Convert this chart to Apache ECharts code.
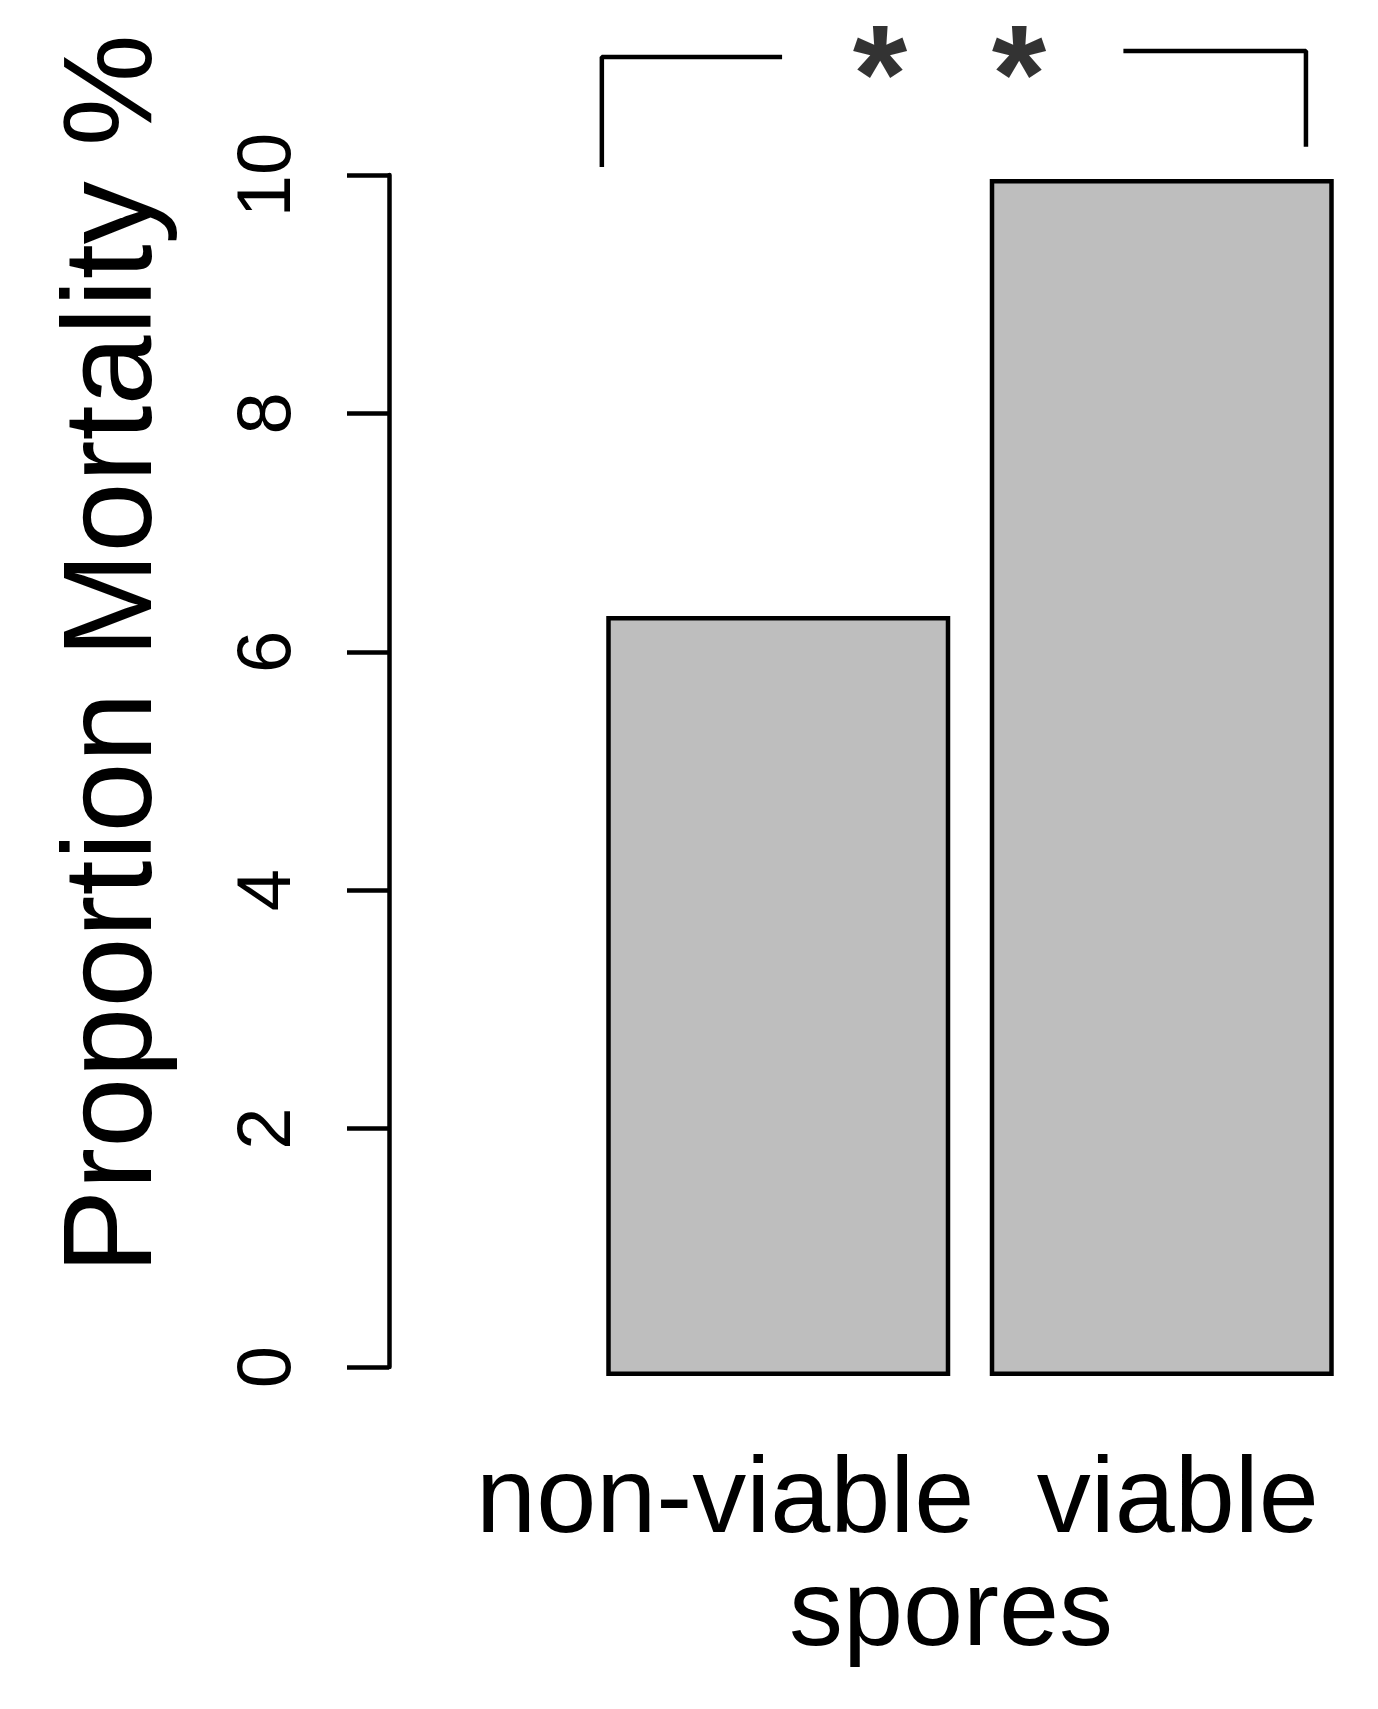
<!DOCTYPE html>
<html>
<head>
<meta charset="utf-8">
<script src="https://cdn.jsdelivr.net/npm/echarts@6/dist/echarts.min.js"></script>
<style>html,body{margin:0;padding:0;background:#fff}#c{width:1378px;height:1709px}</style>
</head>
<body>
<div id="c"></div>
<script>
const categories = ['non-viable', 'viable'];
const mortality = [6.35, 10];
const yTicks = [0, 2, 4, 6, 8, 10];
const xTitle = 'spores';
const yTitle = 'Proportion Mortality %';
const bracketLeft = [[0.04, 10.10], [0.04, 11.02], [0.51, 11.02]];
const bracketRight = [[1.40, 11.07], [1.876, 11.07], [1.876, 10.27]];
const stars = [[0.765, 10.80], [1.128, 10.80]];

const FONT = 'Liberation Sans, Arial, sans-serif';
const chart = echarts.init(document.getElementById('c'), null, {renderer: 'canvas'});
const lineStyle = {color: '#000', width: 4.5};
chart.setOption({
  backgroundColor: '#fff',
  animation: false,
  grid: [
    {left: 389, right: 24.5, top: 175, bottom: 342},
    {left: 586.5, right: 24.5, top: 179, bottom: 333}
  ],
  xAxis: [
    {gridIndex: 0, type: 'value', min: 0, max: 2, show: false},
    {gridIndex: 1, type: 'category', data: [
        {value: categories[0], textStyle: {padding: [0, 106, 0, 0]}},
        {value: categories[1], textStyle: {padding: [0, 0, 0, 32]}}
      ],
      axisLine: {show: false}, axisTick: {show: false},
      axisLabel: {interval: 0, hideOverlap: false, margin: 72, fontSize: 108, color: '#000', fontFamily: FONT},
      name: xTitle, nameLocation: 'middle', nameGap: 175,
      nameTextStyle: {fontSize: 108, color: '#000', fontFamily: FONT, padding: [0, 38, 0, 0]}
    },
    {gridIndex: 1, type: 'value', min: 0, max: 2, show: false}
  ],
  yAxis: [
    {gridIndex: 0, type: 'value', min: yTicks[0], max: yTicks[yTicks.length - 1], interval: 2,
      position: 'left',
      axisLine: {show: true, lineStyle: {color: '#000', width: 4.5}},
      axisTick: {show: true, length: 42, lineStyle: {color: '#000', width: 4.5}},
      splitLine: {show: false},
      axisLabel: {rotate: 90, margin: 82, fontSize: 76, color: '#000', fontFamily: FONT}
    },
    {gridIndex: 1, type: 'value', min: 0, max: 10, show: false}
  ],
  graphic: [{
    type: 'text', x: 116, y: 654, rotation: Math.PI / 2,
    style: {text: yTitle, fontSize: 126, fontFamily: FONT, fill: '#000', align: 'center', verticalAlign: 'middle'}
  }],
  series: [
    {type: 'bar', xAxisIndex: 1, yAxisIndex: 1, data: mortality, barWidth: 344,
      itemStyle: {color: '#bebebe', borderColor: '#000', borderWidth: 4.5}},
    {type: 'line', xAxisIndex: 2, yAxisIndex: 1, data: bracketLeft, clip: false, symbol: 'none', lineStyle: lineStyle},
    {type: 'line', xAxisIndex: 2, yAxisIndex: 1, data: bracketRight, clip: false, symbol: 'none', lineStyle: lineStyle},
    {type: 'scatter', xAxisIndex: 2, yAxisIndex: 1, data: stars, clip: false, symbolSize: 1,
      itemStyle: {color: 'rgba(0,0,0,0)'},
      label: {show: true, position: 'inside', formatter: '*', fontSize: 140, fontWeight: 'bold', color: '#000',
        textBorderWidth: 0, fontFamily: FONT}}
  ]
});
</script>
</body>
</html>
